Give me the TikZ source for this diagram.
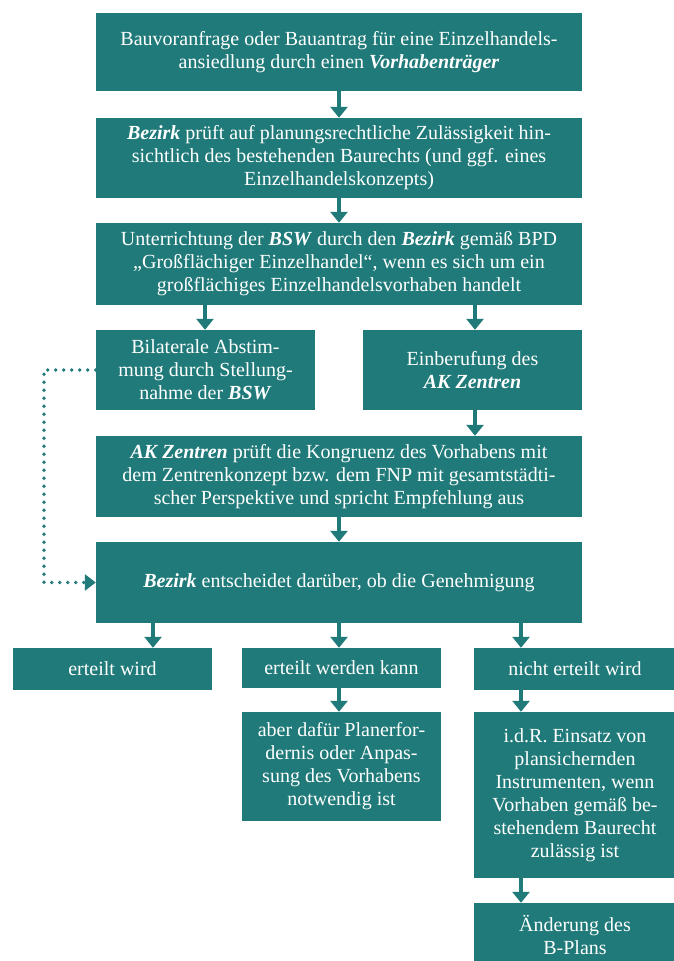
\documentclass[tikz,border=0pt]{standalone}
\usepackage{fontspec}
\setmainfont{Liberation Serif}
\usetikzlibrary{arrows.meta}
\definecolor{teal}{RGB}{32,122,121}
\begin{document}
\begin{tikzpicture}[x=1pt,y=-1pt,
  box/.style={fill=teal, text=white, inner sep=0pt, align=center,
    font=\fontsize{20}{23}\selectfont},
  arr/.style={draw=teal, line width=4pt, -{Triangle[width=17pt,length=11pt]}},
  dotline/.style={draw=teal, line width=3.8pt, line cap=round,
    dash pattern=on 0pt off 8pt, -{Triangle[width=16pt,length=11pt]}},
  ]
\useasboundingbox (0,0) rectangle (674,961);
\node[box, minimum width=486pt, minimum height=78pt] (b1) at (339,52)
  {Bauvoranfrage oder Bauantrag für eine Einzelhandels-\\ansiedlung durch einen \textbf{\textit{Vorhabenträger}}};
\node[box, minimum width=486pt, minimum height=80pt] (b2) at (339,158)
  {\textbf{\textit{Bezirk}} prüft auf planungsrechtliche Zulässigkeit hin-\\sichtlich des bestehenden Baurechts (und ggf. eines\\Einzelhandelskonzepts)};
\node[box, minimum width=486pt, minimum height=82pt] (b3) at (339,264)
  {Unterrichtung der \textbf{\textit{BSW}} durch den \textbf{\textit{Bezirk}} gemäß BPD\\„Großflächiger Einzelhandel“, wenn es sich um ein\\großflächiges Einzelhandelsvorhaben handelt};
\node[box, minimum width=219pt, minimum height=80pt] (b4a) at (205.5,370)
  {Bilaterale Abstim-\\mung durch Stellung-\\nahme der \textbf{\textit{BSW}}};
\node[box, minimum width=219pt, minimum height=80pt] (b4b) at (472.5,370)
  {Einberufung des\\\textbf{\textit{AK Zentren}}};
\node[box, minimum width=486pt, minimum height=81pt] (b5) at (339,476.5)
  {\textbf{\textit{AK Zentren}} prüft die Kongruenz des Vorhabens mit\\dem Zentrenkonzept bzw. dem FNP mit gesamtstädti-\\scher Perspektive und spricht Empfehlung aus};
\node[box, minimum width=486pt, minimum height=81pt] (b6) at (339,582.5)
  {\textbf{\textit{Bezirk}} entscheidet darüber, ob die Genehmigung};
\node[box, minimum width=199pt, minimum height=42pt] (b7a) at (112.5,669)
  {erteilt wird};
\node[box, minimum width=199pt, minimum height=40pt] (b7b) at (341.5,668)
  {erteilt werden kann};
\node[box, minimum width=202pt, minimum height=42pt] (b7c) at (575,669)
  {nicht erteilt wird};
\node[box, minimum width=199pt, minimum height=109pt] (b8b) at (341.5,766.5)
  {aber dafür Planerfor-\\dernis oder Anpas-\\sung des Vorhabens\\notwendig ist};
\node[box, minimum width=202pt, minimum height=166pt] (b8c) at (575,795)
  {i.d.R. Einsatz von\\plansichernden\\Instrumenten, wenn\\Vorhaben gemäß be-\\stehendem Baurecht\\zulässig ist};
\node[box, minimum width=202pt, minimum height=63pt] (b9) at (575,934.5)
  {Änderung des\\B-Plans};
\coordinate (xm) at (339,0);
\coordinate (xl) at (205,0);
\coordinate (xr) at (475,0);
\coordinate (xa) at (153,0);
\coordinate (xc) at (521,0);
\coordinate (dl) at (44,370);
\draw[arr] (b1.south -| xm) -- (b2.north -| xm);
\draw[arr] (b2.south -| xm) -- (b3.north -| xm);
\draw[arr] (b3.south -| xl) -- (b4a.north -| xl);
\draw[arr] (b3.south -| xr) -- (b4b.north -| xr);
\draw[arr] (b4b.south -| xr) -- (b5.north -| xr);
\draw[arr] (b5.south -| xm) -- (b6.north -| xm);
\draw[arr] (b6.south -| xa) -- (b7a.north -| xa);
\draw[arr] (b6.south -| xm) -- (b7b.north -| xm);
\draw[arr] (b6.south -| xc) -- (b7c.north -| xc);
\draw[arr] (b7b.south -| xm) -- (b8b.north -| xm);
\draw[arr] (b7c.south -| xc) -- (b8c.north -| xc);
\draw[arr] (b8c.south -| xc) -- (b9.north -| xc);
\draw[dotline] (b4a.west) -- (dl) |- (b6.west);
\end{tikzpicture}
\end{document}
